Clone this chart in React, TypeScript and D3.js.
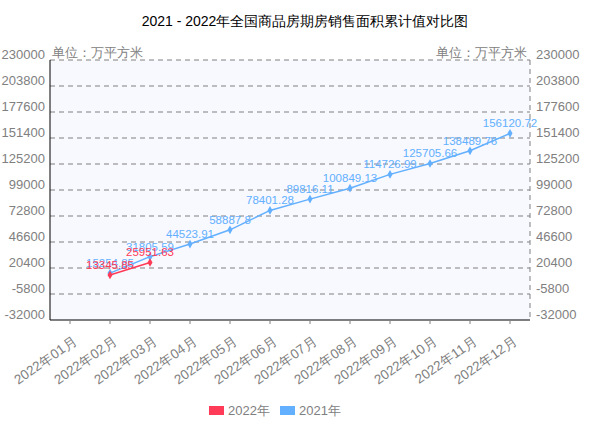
import React from "react";
import * as d3 from "d3";

const months = ["2022年01月","2022年02月","2022年03月","2022年04月","2022年05月","2022年06月","2022年07月","2022年08月","2022年09月","2022年10月","2022年11月","2022年12月"];
const yTicks = [230000, 203800, 177600, 151400, 125200, 99000, 72800, 46600, 20400, -5800, -32000];
const series2022: (number | null)[] = [null, 13345.85, 25951.63, null, null, null, null, null, null, null, null, null];
const series2021: (number | null)[] = [null, 15254.85, 31805.59, 44523.91, 58887.8, 78401.28, 89816.11, 100849.13, 114726.99, 125705.66, 138489.76, 156120.72];
const seriesNames = ["2022年", "2021年"];
const colors = ["#ff3b57", "#62b0ff"];

const W = 610, H = 436;
const L = 50, R = 530, T = 60, B = 320;

export default function App() {
  const x = d3.scalePoint<string>().domain(months).range([L, R]).padding(0.5);
  const y = d3.scaleLinear().domain([-32000, 230000]).range([B, T]);
  const line = d3.line<[string, number | null]>()
    .defined((d) => d[1] != null)
    .x((d) => x(d[0])!)
    .y((d) => y(d[1] as number));
  const font = "'Liberation Sans', Arial, sans-serif";
  const all = [series2021, series2022];
  const cols = [colors[1], colors[0]];
  return (
    <svg width={W} height={H} style={{ position: "absolute", left: 0, top: 0 }} fontFamily={font}>
      <rect x={0} y={0} width={W} height={H} fill="#fff" />
      <text x={W / 2} y={26} textAnchor="middle" fontSize={14} fill="#000">2021 - 2022年全国商品房期房销售面积累计值对比图</text>
      <rect x={L} y={T} width={R - L} height={B - T} fill="#f8f8ff" />
      {yTicks.map((t) => (
        <g key={t}>
          {t !== -32000 && (
            <line x1={L} x2={R} y1={y(t)} y2={y(t)} stroke="#808080" strokeDasharray="5,4" />
          )}
          <text x={45} y={y(t) - 1} textAnchor="end" fontSize={13} fill="#808080">{t}</text>
          <text x={536} y={y(t) - 1} textAnchor="start" fontSize={13} fill="#808080">{t}</text>
        </g>
      ))}
      <line x1={R} x2={R} y1={T} y2={B} stroke="#808080" strokeDasharray="5,4" />
      <line x1={L} x2={L} y1={T} y2={B} stroke="#000" />
      <line x1={L} x2={R} y1={B} y2={B} stroke="#000" />
      <rect x={L + 2} y={44} width={96} height={15} fill="#fff" />
      <rect x={430} y={44} width={97} height={15} fill="#fff" />
      <text x={52} y={57} fontSize={13} fill="#808080">单位：万平方米</text>
      <text x={527} y={57} fontSize={13} fill="#808080" textAnchor="end">单位：万平方米</text>
      {months.map((m) => (
        <g key={m}>
          <line x1={x(m)} x2={x(m)} y1={B} y2={B + 4} stroke="#808080" />
          <text transform={`translate(${x(m)! + 8},${B + 23}) rotate(-35)`} textAnchor="end" fontSize={13.5} fill="#808080">{m}</text>
        </g>
      ))}
      {all.map((s, i) => {
        const pts = months.map((m, j) => [m, s[j]] as [string, number | null]);
        return (
          <g key={i}>
            <path d={line(pts) || ""} fill="none" stroke={cols[i]} strokeWidth={1.5} />
            {pts.filter((p) => p[1] != null).map((p) => (
              <g key={p[0]}>
                <path d={d3.symbol(d3.symbolDiamond, 22)()!} transform={`translate(${x(p[0])},${y(p[1] as number)})`} fill={cols[i]} />
                <text x={x(p[0])} y={y(p[1] as number) - 6} textAnchor="middle" fontSize={11.5} fill={cols[i]}>{p[1]}</text>
              </g>
            ))}
          </g>
        );
      })}
      {seriesNames.map((n, i) => (
        <g key={n}>
          <rect x={209 + i * 71} y={406} width={15} height={9} fill={colors[i]} />
          <text x={228 + i * 71} y={415} fontSize={13} fill="#808080">{n}</text>
        </g>
      ))}
    </svg>
  );
}
